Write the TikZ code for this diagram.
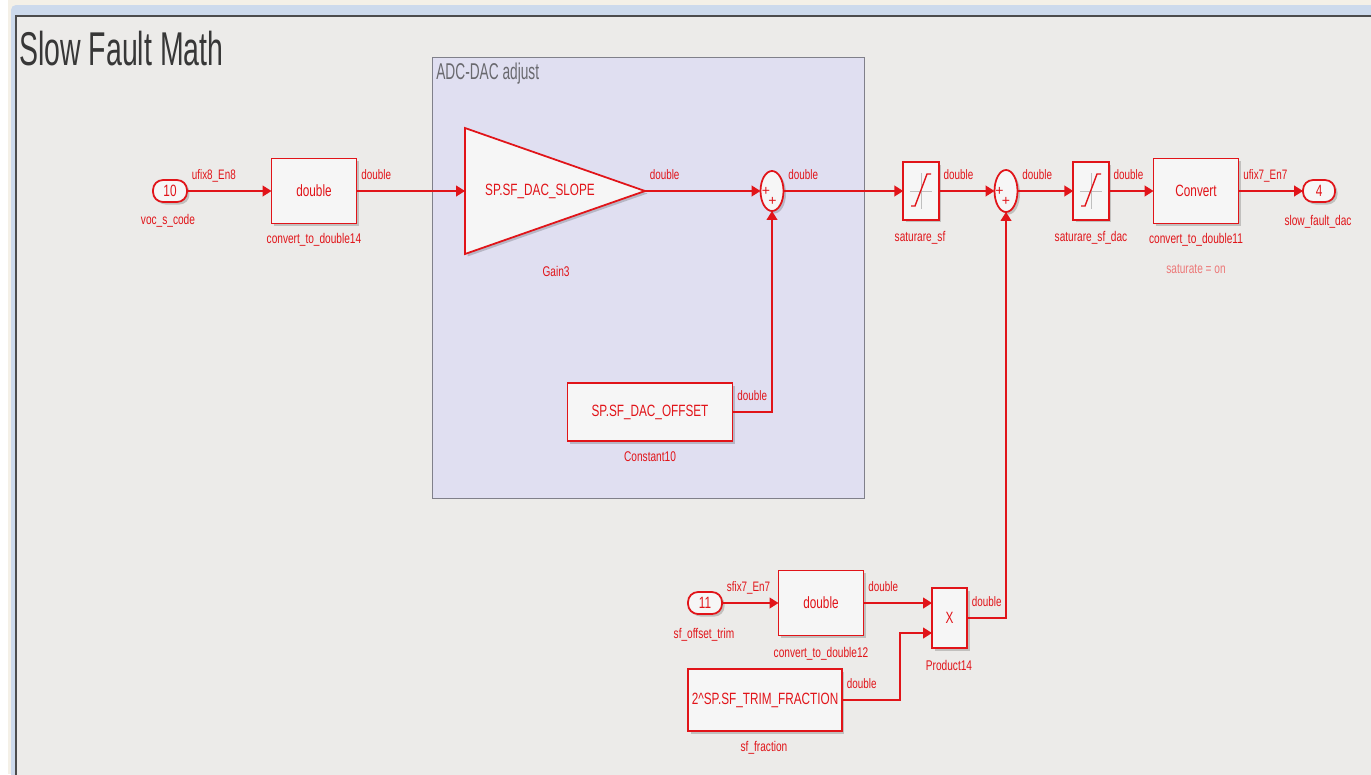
\documentclass[tikz,border=0pt]{standalone}
\usepackage{fontspec}
\setmainfont{Liberation Sans}
\newfontfamily\blkfont[FakeStretch=0.72]{Liberation Sans}
\newfontfamily\ttlfont[FakeStretch=0.6]{Liberation Sans}
\usepackage{tikz}
\usetikzlibrary{arrows.meta,shapes.geometric,shadows,positioning}
\definecolor{sred}{RGB}{225,20,25}
\definecolor{salered}{RGB}{236,120,120}
\definecolor{blkfill}{RGB}{246,246,246}
\definecolor{canvas}{RGB}{236,235,233}
\definecolor{topband}{RGB}{244,240,231}
\definecolor{frameblue}{RGB}{205,218,236}
\definecolor{areafill}{RGB}{224,223,241}
\definecolor{arealine}{RGB}{128,128,138}
\definecolor{ttlgray}{RGB}{55,55,55}
\definecolor{areatxt}{RGB}{105,105,110}
\tikzset{
  blk/.style={draw=sred, fill=blkfill, line width=1pt, text=sred, inner sep=0pt, outer sep=0pt,
    font=\blkfont\fontsize{9.3}{11}\selectfont,
    drop shadow={shadow xshift=0.05cm, shadow yshift=-0.05cm, fill=black, opacity=0.18}},
  port/.style={blk, rounded corners=0.2cm, minimum width=0.68cm, minimum height=0.44cm},
  sumblk/.style={blk, ellipse, minimum width=0.46cm, minimum height=0.8cm},
  satblk/.style={blk, minimum width=0.71cm, minimum height=1.16cm},
  cnvblk/.style={blk, minimum width=1.7cm, minimum height=1.3cm},
  sig/.style={draw=sred, line width=1pt, -{Triangle[length=5pt,width=6pt]}},
  siglbl/.style={anchor=base west, pos=0, xshift=0.08cm, yshift=0.24cm, inner sep=0pt,
    text=sred, font=\blkfont\fontsize{7.8}{9}\selectfont},
  blklbl/.style={text=sred, inner sep=0pt, font=\blkfont\fontsize{8}{9}\selectfont},
  sgn/.style={text=sred, inner sep=0pt, font=\fontsize{8}{8}\selectfont},
}

\begin{document}
\begin{tikzpicture}[x=0.02cm,y=-0.02cm]
    \useasboundingbox (0,0) rectangle (1371,774);
    \fill[white] (0,0) rectangle (1371,774);
    \fill[topband] (8,0) rectangle (1371,774);
    \fill[frameblue, rounded corners=0.1cm] (11,5) rectangle (1400,800);
    \fill[canvas] (16,16) rectangle (1380,790);
    \draw[black!70, line width=0.8pt] (16,790) -- (16,16) -- (1380,16);

    \node[anchor=west, text=ttlgray, inner sep=0pt, font=\ttlfont\fontsize{27}{30}\selectfont] at (19,49) (ttl){Slow Fault Math};

    \node[draw=arealine, fill=areafill, line width=0.8pt, anchor=north west, minimum width=8.64cm, minimum height=8.82cm] at (432,57) (adj){};
    \node[anchor=west, text=areatxt, inner sep=0pt, font=\ttlfont\fontsize{13}{15}\selectfont] at ([shift={(0.08cm,-0.34cm)}]adj.north west) (adjttl){ADC-DAC adjust};

    \node[port] at (170,191) (in10){10};
    \node[blklbl] at (168,221) (in10lbl){voc\_s\_code};

    \node[cnvblk] at (314,191) (cnv14){double};
    \node[blklbl] at (314,240) (cnv14lbl){convert\_to\_double14};

    \node[blk, isosceles triangle, isosceles triangle stretches, shape border rotate=0, minimum width=2.52cm, minimum height=3.6cm, anchor=lower side] at (465,191) (gain){};
    \node[text=sred, inner sep=0pt, font=\blkfont\fontsize{9.3}{11}\selectfont] at (540,191) (gaintxt){SP.SF\_DAC\_SLOPE};
    \node[blklbl] at (556,271) (gainlbl){Gain3};

    \node[sumblk] at (772,191) (sum1){};
    \node[sgn] at ([xshift=-0.12cm]sum1.center) {+};
    \node[sgn] at ([shift={(0.01cm,-0.2cm)}]sum1.center) {+};

    \node[blk, minimum width=3.3cm, minimum height=1.16cm] at (650,412) (const10){SP.SF\_DAC\_OFFSET};
    \node[blklbl] at (650,457) (const10lbl){Constant10};

    \node[satblk] at (921,191) (sat1){};
    \node[blklbl] at (920,238) (sat1lbl){saturare\_sf};

    \node[sumblk, minimum height=0.84cm] at (1006,191) (sum2){};
    \node[sgn] at ([xshift=-0.13cm]sum2.center) {+};
    \node[sgn] at ([shift={(0.0cm,-0.2cm)}]sum2.center) {+};

    \node[satblk] at (1091,191) (sat2){};
    \node[blklbl] at (1091,238) (sat2lbl){saturare\_sf\_dac};

    \node[cnvblk] at (1196,191) (cnv11){Convert};
    \node[blklbl] at (1196,240) (cnv11lbl){convert\_to\_double11};
    \node[blklbl, text=salered] at (1196,269) (cnv11sat){saturate = on};

    \node[port, minimum width=0.64cm] at (1319,191) (out4){4};
    \node[blklbl] at (1318,222) (out4lbl){slow\_fault\_dac};

    \node[port] at (705,603) (in11){11};
    \node[blklbl] at (704,635) (in11lbl){sf\_offset\_trim};

    \node[cnvblk] at (821,603) (cnv12){double};
    \node[blklbl] at (821,654) (cnv12lbl){convert\_to\_double12};

    \node[blk, minimum width=0.7cm, minimum height=1.2cm] at (949.5,618) (prod){X};
    \node[blklbl] at (949,665) (prodlbl){Product14};

    \node[blk, minimum width=3.08cm, minimum height=1.24cm] at (765,700) (frac){2\^{}SP.SF\_TRIM\_FRACTION};
    \node[blklbl] at (764,748) (fraclbl){sf\_fraction};

    \foreach \s in {sat1,sat2}{
      \draw[black!25, line width=0.5pt] ([xshift=-0.22cm]\s.center) -- ([xshift=0.22cm]\s.center);
      \draw[black!25, line width=0.5pt] ([yshift=0.36cm]\s.center) -- ([yshift=-0.36cm]\s.center);
      \draw[sred, line width=0.8pt] ([shift={(-0.2cm,-0.3cm)}]\s.center) -- ++(0.08cm,0) -- ++(0.24cm,0.64cm) -- ++(0.08cm,0);
    }

    \draw [sig] (in10.east) -- node[siglbl]{ufix8\_En8} (cnv14.west);
    \draw [sig] (cnv14.east) -- node[siglbl]{double} (gain.lower side);
    \draw [sig] (gain.apex) -- node[siglbl]{double} (sum1.west);
    \draw [sig] (const10.east) -| node[siglbl]{double} (sum1.south);
    \draw [sig] (sum1.east) -- node[siglbl]{double} (sat1.west);
    \draw [sig] (sat1.east) -- node[siglbl]{double} (sum2.west);
    \draw [sig] (sum2.east) -- node[siglbl]{double} (sat2.west);
    \draw [sig] (sat2.east) -- node[siglbl]{double} (cnv11.west);
    \draw [sig] (cnv11.east) -- node[siglbl]{ufix7\_En7} (out4.west);

    \draw [sig] (in11.east) -- node[siglbl]{sfix7\_En7} (cnv12.west);
    \draw [sig] (cnv12.east) -- node[siglbl]{double} ([yshift=0.3cm]prod.west);
    \draw [sig] (frac.east) -- node[siglbl]{double} ++(58,0) |- ([yshift=-0.3cm]prod.west);
    \draw [sig] (prod.east) -| node[siglbl]{double} (sum2.south);
  \end{tikzpicture}
\end{document}
